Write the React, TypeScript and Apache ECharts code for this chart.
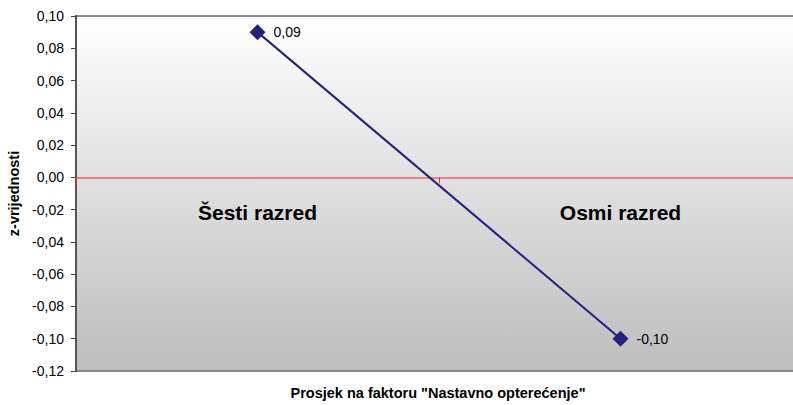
import React, { useEffect, useRef } from "react";
import * as echarts from "echarts";

const categories = ["Šesti razred", "Osmi razred"];
const values = [0.09, -0.1];
const yAxisTitle = "z-vrijednosti";
const xAxisTitle = 'Prosjek na faktoru "Nastavno opterećenje"';

const fmt = (v: number) => v.toFixed(2).replace(".", ",");
const FONT = "Liberation Sans, Arial, sans-serif";

export default function App() {
  const ref = useRef<HTMLDivElement>(null);
  useEffect(() => {
    const chart = echarts.init(ref.current!, null, { renderer: "svg" });
    chart.setOption({
      animation: false,
      backgroundColor: "#ffffff",
      textStyle: { fontFamily: FONT },
      grid: {
        left: 76,
        top: 16,
        width: 726,
        height: 355,
        outerBoundsMode: "none",
        containLabel: false,
        show: true,
        borderColor: "#8a8a8a",
        borderWidth: 2,
        backgroundColor: new echarts.graphic.LinearGradient(0, 0, 0, 1, [
          { offset: 0, color: "#ffffff" },
          { offset: 1, color: "#bdbdbd" },
        ]),
      },
      xAxis: {
        type: "category",
        data: categories,
        boundaryGap: true,
        axisLine: { onZero: true, lineStyle: { color: "#f06060", width: 1.5 } },
        axisTick: { show: true, length: 6, lineStyle: { color: "#f03030", width: 1 } },
        axisLabel: { show: false },
      },
      yAxis: {
        type: "value",
        min: -0.12,
        max: 0.1,
        interval: 0.02,
        name: yAxisTitle,
        nameLocation: "middle",
        nameRotate: 90,
        nameGap: 48,
        nameTextStyle: { fontSize: 14.5, fontWeight: "bold", color: "#000", fontFamily: FONT },
        axisLine: { show: true, lineStyle: { color: "#555555", width: 2 } },
        axisTick: { show: true, length: 5, lineStyle: { color: "#444", width: 1 } },
        splitLine: { show: false },
        axisLabel: {
          fontSize: 14,
          color: "#000",
          margin: 12,
          fontFamily: FONT,
          formatter: (v: number) => fmt(v),
        },
      },
      series: [
        {
          type: "line",
          data: values,
          symbol: "diamond",
          symbolSize: 16,
          lineStyle: { color: "#22227a", width: 2 },
          itemStyle: { color: "#22227a" },
          label: {
            show: true,
            position: "right",
            distance: 8,
            fontSize: 14,
            color: "#000",
            fontFamily: FONT,
            formatter: (p: any) => fmt(p.value),
          },
        },
      ],
    });

    const zeroY = chart.convertToPixel({ yAxisIndex: 0 }, 0) as number;
    const catTexts = categories.map((c) => ({
      type: "text",
      x: chart.convertToPixel({ xAxisIndex: 0 }, c) as number,
      y: zeroY + 35,
      style: {
        text: c,
        fontSize: 21,
        fontWeight: "bold",
        fill: "#000",
        fontFamily: FONT,
        align: "center",
        verticalAlign: "middle",
      },
    }));
    chart.setOption({
      graphic: [
        ...catTexts,
        {
          type: "text",
          x: 438,
          y: 393,
          style: {
            text: xAxisTitle,
            fontSize: 14.5,
            fontWeight: "bold",
            fill: "#000",
            fontFamily: FONT,
            align: "center",
            verticalAlign: "middle",
          },
        },
      ],
    });
    return () => chart.dispose();
  }, []);
  return (
    <div
      ref={ref}
      style={{ position: "fixed", left: 0, top: 0, width: 793, height: 405 }}
    />
  );
}
